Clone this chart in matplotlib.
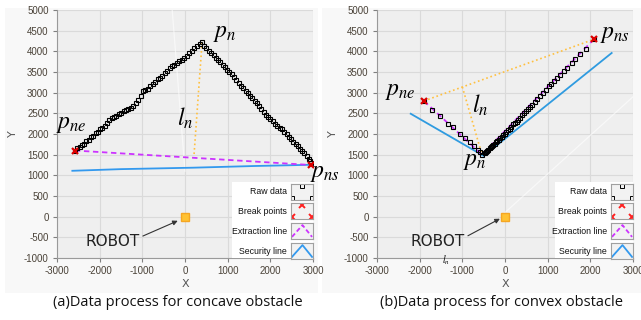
import matplotlib
matplotlib.use('Agg')
import matplotlib.pyplot as plt
from matplotlib.patches import Rectangle
import numpy as np

# mathtext som Times-lignende kursiv
plt.rcParams['mathtext.fontset'] = 'stix'
plt.rcParams['font.family'] = ['DejaVu Sans']

W, H = 641, 320

"""Data lest av figuren"""
# (a) konkav hindring - raadata, venstre og hoyre ben
conc_x = [-2580, -2520, -2470, -2420, -2370, -2310, -2260, -2200, -2150, -2090,
          -2050, -1990, -1940, -1880, -1830, -1770, -1720, -1660, -1610, -1550,
          -1500, -1440, -1390, -1330, -1270, -1220, -1160, -1100, -1040, -980,
          -930, -870, -810, -750, -700, -640, -590, -530, -470, -420,
          -360, -300, -250, -190, -130, -80, -20, 40, 100, 160,
          220, 280, 340, 400,
          450, 500, 560, 620, 670, 720, 780, 830, 880, 940,
          990, 1040, 1100, 1150, 1200, 1260, 1310, 1360, 1420, 1470,
          1520, 1580, 1630, 1680, 1740, 1790, 1840, 1900, 1950, 2000,
          2060, 2110, 2160, 2220, 2270, 2320, 2380, 2430, 2480, 2540,
          2590, 2640, 2700, 2750, 2800, 2850, 2900, 2930, 2960]
conc_y = [1600, 1650, 1690, 1740, 1770, 1830, 1860, 1920, 1960, 2030,
          2060, 2110, 2150, 2200, 2260, 2340, 2380, 2410, 2440, 2490,
          2520, 2560, 2590, 2610, 2640, 2670, 2740, 2830, 2930, 3040,
          3060, 3100, 3150, 3200, 3260, 3320, 3360, 3410, 3470, 3530,
          3590, 3640, 3680, 3720, 3760, 3800, 3830, 3880, 3950, 4020,
          4080, 4120, 4170, 4220,
          4120, 4070, 4020, 3960, 3900, 3850, 3790, 3730, 3670, 3610,
          3540, 3500, 3440, 3380, 3310, 3240, 3170, 3110, 3050, 2980,
          2920, 2860, 2810, 2740, 2670, 2600, 2530, 2470, 2420, 2370,
          2310, 2250, 2200, 2140, 2110, 2060, 1990, 1930, 1870, 1800,
          1750, 1700, 1640, 1590, 1530, 1460, 1390, 1350, 1290]
conc_break_x = [-2580, 2950]
conc_break_y = [1600, 1250]
conc_ext_x = [-2580, 2950]
conc_ext_y = [1600, 1250]
conc_sec_x = [-2640, -1500, 190, 1600, 2950]
conc_sec_y = [1110, 1150, 1185, 1225, 1255]
conc_dot_x = [400, 210]
conc_dot_y = [4220, 1470]

# (b) konveks hindring
conv_x = [-1900, -1720, -1530, -1340, -1220, -1060, -930, -810, -720, -640,
          -580, -540,
          -480, -450, -420, -390, -360, -330, -300, -270, -240, -210,
          -180, -150, -110, -80, -50, -10, 30, 70, 110, 150,
          190, 230, 270, 310, 350, 400, 440, 490, 540, 590,
          640, 700, 760, 820, 880, 950, 1020, 1080, 1150, 1220,
          1290, 1380, 1460, 1560, 1650, 1760, 1900, 2080]
conv_y = [2800, 2590, 2440, 2240, 2160, 2000, 1910, 1800, 1710, 1620,
          1560, 1500,
          1530, 1560, 1590, 1620, 1650, 1680, 1700, 1740, 1770, 1800,
          1830, 1860, 1900, 1930, 1970, 2010, 2050, 2090, 2130, 2180,
          2230, 2270, 2300, 2340, 2390, 2450, 2500, 2550, 2600, 2660,
          2710, 2780, 2850, 2920, 2990, 3060, 3150, 3210, 3280, 3350,
          3420, 3520, 3600, 3710, 3810, 3940, 4050, 4290]
conv_break_x = [-1900, 2080]
conv_break_y = [2800, 4290]
conv_ext_x = [-1900, -540, 2080]
conv_ext_y = [2800, 1500, 4290]
conv_sec_x = [-2210, -500, 2500]
conv_sec_y = [2490, 1470, 3960]
conv_dot1_x = [-1900, 2080]
conv_dot1_y = [2800, 4290]
conv_dot2_x = [-1000, -540]
conv_dot2_y = [3140, 1500]

xticks = np.arange(-3000, 3001, 1000)
yticks = np.arange(-1000, 5001, 500)
legend_labels = ['Raw data', 'Break points', 'Extraction line', 'Security line']
captions = ['(a)Data process for concave obstacle', '(b)Data process for convex obstacle']

"""Plotting"""
def px(x0, y0, x1, y1):
    # pikselboks -> figurkoordinater
    return [x0 / W, 1 - y1 / H, (x1 - x0) / W, (y1 - y0) / H]

fig = plt.figure(figsize=(W / 100, H / 100), dpi=100)
fig.patch.set_facecolor('white')

# paneler (lys gra bakgrunn)
for x0, x1 in [(5, 318), (322, 641)]:
    fig.patches.append(Rectangle((x0 / W, 1 - 293 / H), (x1 - x0) / W, 285 / H,
                                 transform=fig.transFigure, facecolor='#f8f8f8',
                                 edgecolor='none', zorder=-2))

ax1 = fig.add_axes(px(57, 10, 313, 258))
ax2 = fig.add_axes(px(377, 10, 633, 258))

tickfont = {'family': 'Liberation Sans', 'size': 7}
for ax in (ax1, ax2):
    ax.set_facecolor('#efefef')
    ax.set_xlim(-3000, 3000)
    ax.set_ylim(-1000, 5000)
    ax.set_xticks(xticks)
    ax.set_yticks(yticks)
    ax.set_xticklabels([str(t) for t in xticks], fontdict=tickfont, color='#4a4238')
    ax.set_yticklabels([str(t) for t in yticks], fontdict=tickfont, color='#4a4238')
    ax.tick_params(length=3, width=0.8, color='#808080', pad=3)
    ax.grid(color='#dadada', lw=0.8)
    ax.set_axisbelow(True)
    for s in ['top', 'right']:
        ax.spines[s].set_visible(False)
    for s in ['left', 'bottom']:
        ax.spines[s].set_color('#9a9a9a')
    ax.set_xlabel('X', fontsize=8, color='#555555', labelpad=2)
    ax.set_ylabel('Y', fontsize=8, color='#555555', labelpad=4)
    # robot
    ax.plot([0], [0], 's', ms=6, mfc='#ffc233', mec='#f5a623', mew=1, zorder=5)

# (a) konkav
ax1.plot([-300, 0], [5000, 1100], color='white', lw=0.9, alpha=0.6)
ax1.plot(conc_sec_x, conc_sec_y, color='#3399ee', lw=1.3, zorder=2)
ax1.plot(conc_ext_x, conc_ext_y, color='#cc33ff', lw=1.3, ls='--', dashes=(3, 2), zorder=3)
ax1.plot(conc_dot_x, conc_dot_y, color='#ffc040', lw=1.2, ls=':', zorder=3)
ax1.plot(conc_x, conc_y, 's', ms=3.4, mfc='none', mec='black', mew=0.8, zorder=4)
ax1.plot(conc_break_x, conc_break_y, 'x', ms=5, color='#dd0000', mew=1.6, zorder=5)

# (b) konveks
ax2.plot([0, 3000], [100, 2900], color='white', lw=0.9, alpha=0.6)
ax2.plot(conv_sec_x, conv_sec_y, color='#2f9be0', lw=1.3, zorder=2)
ax2.plot(conv_dot1_x, conv_dot1_y, color='#ffc040', lw=1.2, ls=':', zorder=3)
ax2.plot(conv_dot2_x, conv_dot2_y, color='#ffc040', lw=1.2, ls=':', zorder=3)
ax2.plot(conv_ext_x, conv_ext_y, color='#cc33ff', lw=1.3, ls='--', dashes=(3, 2), zorder=3)
ax2.plot(conv_x, conv_y, 's', ms=3.4, mfc='none', mec='black', mew=0.8, zorder=4)
ax2.plot(conv_break_x, conv_break_y, 'x', ms=5, color='#dd0000', mew=1.6, zorder=5)

# store kursive etiketter
big = 17
ax1.text(656, 4345, '$p_{n}$', fontsize=big, va='baseline', zorder=6)
ax1.text(-3030, 2136, '$p_{ne}$', fontsize=big, va='baseline', zorder=6)
ax1.text(-188, 2209, '$l_{n}$', fontsize=big, va='baseline', zorder=6)
ax1.text(2930, 970, '$p_{ns}$', fontsize=big, va='baseline', zorder=6)
ax2.text(2226, 4320, '$p_{ns}$', fontsize=big, va='baseline', zorder=6)
ax2.text(-2812, 2937, '$p_{ne}$', fontsize=big, va='baseline', zorder=6)
ax2.text(-774, 2524, '$l_{n}$', fontsize=big, va='baseline', zorder=6)
ax2.text(-980, 1238, '$p_{n}$', fontsize=big, va='baseline', zorder=6)
ax2.text(-1477, -1140, '$l_{n}$', fontsize=7, va='baseline', zorder=6)

# ROBOT med pil
for ax, tx, hx, hy in [(ax1, -1688, -170, -100), (ax2, -1570, -120, -50)]:
    ax.annotate('ROBOT', xy=(hx, hy), xytext=(tx, -607), fontsize=11,
                ha='center', va='center', color='#222222', zorder=6,
                arrowprops=dict(arrowstyle='-|>', color='#333333', lw=0.8,
                                mutation_scale=7, shrinkA=0, shrinkB=0,
                                relpos=(1.0, 0.8)))

# egendefinert forklaring (LabVIEW-stil)
row_y = [192, 211, 231, 251]
for bx0, bx1, lab_x in [(232, 313, 287), (555, 633, 607)]:
    fig.patches.append(Rectangle((bx0 / W, 1 - 258 / H), (bx1 - bx0) / W, 76 / H,
                                 transform=fig.transFigure, facecolor='white',
                                 edgecolor='none', zorder=5))
    ix0 = lab_x + 4
    for i, (lab, cy) in enumerate(zip(legend_labels, row_y)):
        fig.text(lab_x / W, 1 - cy / H, lab, ha='right', va='center', fontsize=6.3,
                 family='Liberation Sans', color='#111111', zorder=7)
        iax = fig.add_axes(px(ix0, cy - 8, bx1, cy + 8), zorder=6)
        iax.set_facecolor('#f2f2f2')
        iax.set_xlim(-0.1, 1.05)
        iax.set_ylim(-0.15, 1.0)
        iax.set_xticks([])
        iax.set_yticks([])
        for s in iax.spines.values():
            s.set_color('#a0a0a0')
            s.set_linewidth(0.8)
        vx, vy = [-0.05, 0.5, 1.0], [0.0, 0.85, 0.0]
        if i == 0:
            iax.plot(vx, vy, 's', ms=2.5, mfc='none', mec='black', mew=0.7)
        elif i == 1:
            iax.plot(vx, vy, 'x', ms=5, color='#ff2020', mew=1.4)
        elif i == 2:
            iax.plot(vx, vy, color='#cc33ff', lw=1.3, ls='--', dashes=(2.5, 1.5))
        else:
            iax.plot(vx, vy, color='#3399ee', lw=1.3)

# undertekster
fig.text(178 / W, 1 - 302 / H, captions[0], ha='center', va='center', fontsize=10.5,
         family='Open Sans', color='#111111')
fig.text(502 / W, 1 - 302 / H, captions[1], ha='center', va='center', fontsize=10.5,
         family='Open Sans', color='#111111')

plt.savefig('out.png', dpi=100)
